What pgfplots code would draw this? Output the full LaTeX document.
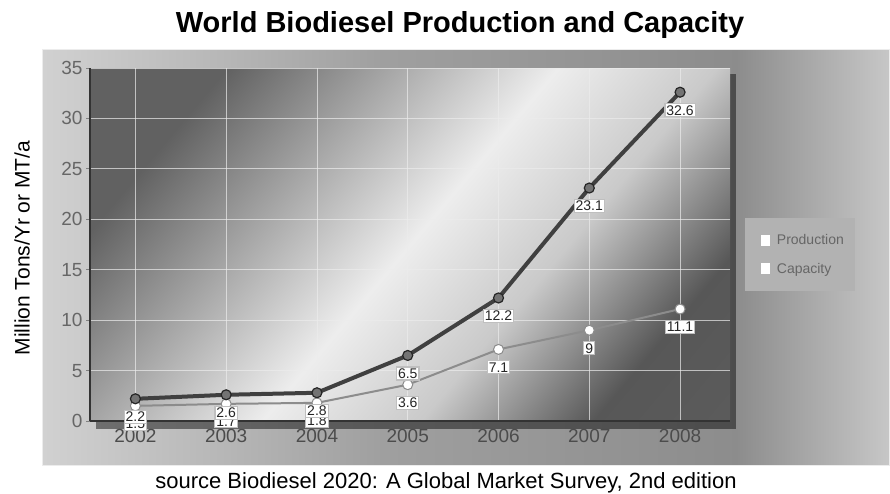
\documentclass[border=0pt]{standalone}
\usepackage{fontspec}
\setmainfont{Liberation Sans}
\usepackage{pgfplots}
\pgfplotsset{compat=1.18}
\usetikzlibrary{shadings}
\definecolor{pbgdark}{gray}{0.38}
\definecolor{pbglight}{gray}{0.93}
\pgfdeclarehorizontalshading{plotbg}{100bp}{color(0bp)=(pbgdark); color(25bp)=(pbgdark); color(50bp)=(pbglight); color(62bp)=(pbglight!85!black); color(75bp)=(pbgdark!90!black); color(100bp)=(pbgdark)}
\definecolor{obgl}{gray}{0.82}
\definecolor{obgm}{gray}{0.55}
\definecolor{obgr}{gray}{0.78}
\pgfdeclarehorizontalshading{outerbg}{100bp}{color(0bp)=(obgl); color(25bp)=(obgl); color(45bp)=(gray!75); color(66bp)=(obgm); color(75bp)=(obgr); color(100bp)=(obgr)}
\definecolor{capline}{gray}{0.25}
\definecolor{prodline}{gray}{0.55}
\begin{document}
\begin{tikzpicture}
\path[use as bounding box] (0pt,0pt) rectangle (890pt,493pt);
% outer panel
\shade[shading=outerbg, draw=white!85!gray, line width=1pt] (42pt,28pt) rectangle (889pt,443pt);
% shadow of plot
\fill[black, opacity=0.45] (96pt,64pt) rectangle (736pt,419pt);
\begin{axis}[
  at={(90pt,72pt)}, anchor=south west,
  scale only axis, width=640pt, height=353pt,
  xmin=2001.5, xmax=2008.55,
  ymin=0, ymax=35,
  xtick={2002,2003,2004,2005,2006,2007,2008},
  xticklabels={2002,2003,2004,2005,2006,2007,2008},
  ytick={0,5,...,35},
  /pgf/number format/assume math mode=true,
  axis background/.style={shading=plotbg, shading angle=-40},
  grid=major,
  major grid style={white!85!gray, line width=0.8pt, opacity=0.7},
  axis x line*=bottom, axis y line*=left,
  axis line style={-, black!80, line width=1.2pt},
  tick align=outside, major tick length=4pt,
  tick style={black!50, line width=0.8pt},
  xtick style={draw=none},
  x tick label style={font=\fontsize{19}{21}\selectfont, text=black!70, yshift=-1pt},
  y tick label style={font=\fontsize{19}{21}\selectfont, text=black!60},
  clip=false,
  nodes near coords,
  every node near coord/.append style={fill=white, draw=black!25, inner sep=1.5pt,
     font=\fontsize{14}{16}\selectfont, text=black!85, anchor=north, yshift=-11pt},
  nodes near coords style={/pgf/number format/.cd, fixed, precision=1, assume math mode=true},
  legend style={at={(1.023,0.575)}, anchor=north west, draw=black!30,
     fill=gray!60, font=\fontsize{14}{16}\selectfont, text=black!60,
     inner xsep=8pt, inner ysep=14pt, row sep=13pt,
     legend cell align=left},
  legend image code/.code={\path[draw=none] (0pt,0pt) -- (22pt,0pt);
     \draw[solid, line width=0.6pt, fill=white, draw=black!30] (7pt,-6pt) rectangle (17pt,6pt);},
]
\addplot[prodline, line width=2pt, mark=*, mark size=5pt,
  mark options={fill=white, draw=black!45, line width=1pt}]
  coordinates {(2002,1.5) (2003,1.7) (2004,1.8) (2005,3.6) (2006,7.1) (2007,9) (2008,11.1)};
\addlegendentry{Production}
\addplot[capline, line width=4pt, mark=*, mark size=5pt,
  mark options={fill=black!55, draw=black!85, line width=1.2pt}]
  coordinates {(2002,2.2) (2003,2.6) (2004,2.8) (2005,6.5) (2006,12.2) (2007,23.1) (2008,32.6)};
\addlegendentry{Capacity}
\end{axis}
\node[font=\bfseries\fontsize{29}{31}\selectfont] at (460pt,468pt) {World Biodiesel Production and Capacity};
\node[font=\fontsize{21}{23}\selectfont, rotate=90] at (22pt,245pt) {Million Tons/Yr or MT/a};
\node[font=\fontsize{22}{24}\selectfont] at (446pt,10pt) {source Biodiesel 2020: A Global Market Survey, 2nd edition};
\end{tikzpicture}
\end{document}
